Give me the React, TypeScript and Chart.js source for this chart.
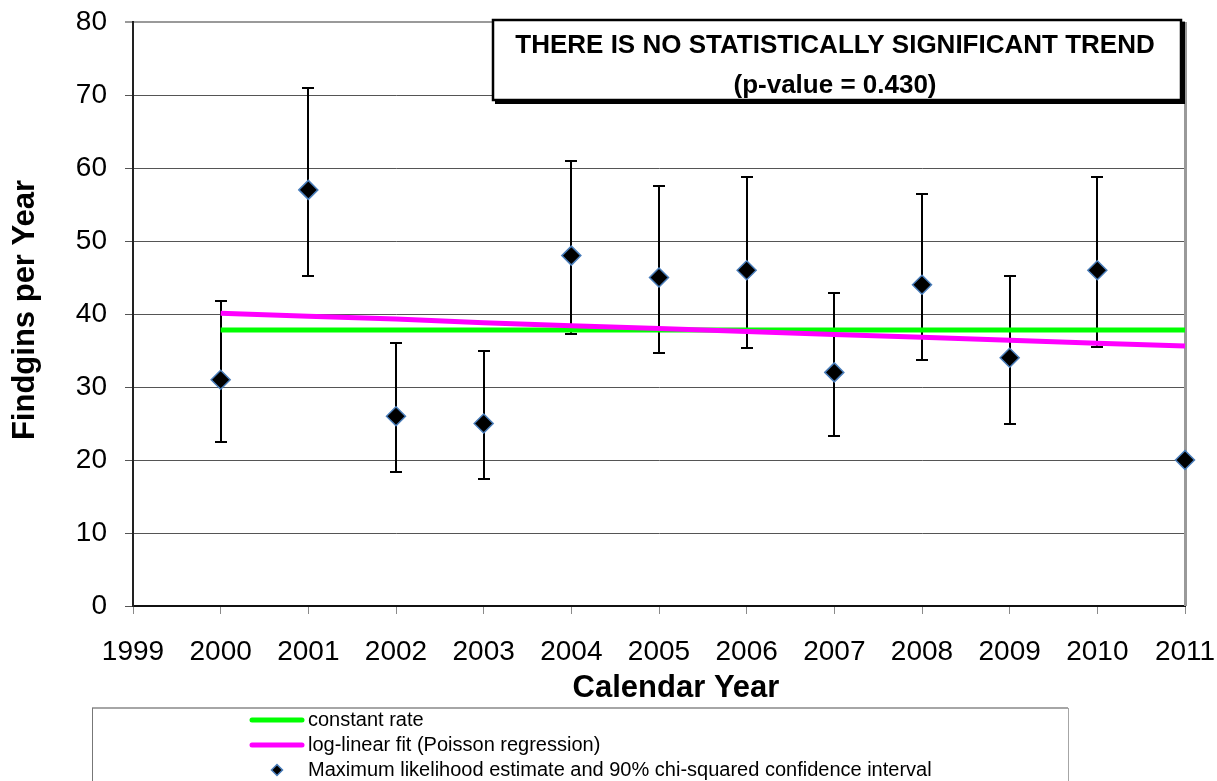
import React, { useEffect, useRef } from "react";
import { Chart, registerables } from "chart.js";

Chart.register(...registerables);

// ---------- data ----------
const years = [2000, 2001, 2002, 2003, 2004, 2005, 2006, 2007, 2008, 2009, 2010, 2011];
const mle = [31, 57, 26, 25, 48, 45, 46, 32, 44, 34, 46, 20];
const ciUpper = [41.8, 71.0, 36.0, 34.9, 61.0, 57.6, 58.7, 42.9, 56.5, 45.2, 58.7, null];
const ciLower = [22.4, 45.2, 18.3, 17.4, 37.2, 34.6, 35.4, 23.3, 33.7, 25.0, 35.5, null];
const constantRate = [37.8, 37.8, 37.8, 37.8, 37.8, 37.8, 37.8, 37.8, 37.8, 37.8, 37.8, 37.8];
const logLinearFit = [40.1, 39.7, 39.3, 38.8, 38.4, 38.0, 37.6, 37.2, 36.8, 36.4, 36.0, 35.6];

const xMin = 1999;
const xMax = 2011;
const yMin = 0;
const yMax = 80;
const yStep = 10;

const yTitle = "Findgins per Year";
const xTitle = "Calendar Year";
const noteLines = ["THERE IS NO STATISTICALLY SIGNIFICANT TREND", "(p-value = 0.430)"];
const legendLabels = [
  "constant rate",
  "log-linear fit (Poisson regression)",
  "Maximum likelihood estimate and 90% chi-squared confidence interval",
];

const FONT = '"Liberation Sans", Arial, Helvetica, sans-serif';
const GREEN = "#00ff00";
const MAGENTA = "#ff00ff";
const MARKER_BORDER = "#4a7ebb";

const decorPlugin = {
  id: "decor",
  beforeDatasetsDraw(chart: any) {
    const { ctx, chartArea, scales } = chart;
    const xs = scales.x;
    const ys = scales.y;
    ctx.save();
    // right plot border
    ctx.strokeStyle = "#9a9a9a";
    ctx.lineWidth = 3;
    ctx.beginPath();
    ctx.moveTo(chartArea.right + 0.5, chartArea.top);
    ctx.lineTo(chartArea.right + 0.5, chartArea.bottom);
    ctx.stroke();
    // error bars
    ctx.strokeStyle = "#000";
    ctx.lineWidth = 2;
    for (let i = 0; i < years.length; i++) {
      const hi = ciUpper[i];
      const lo = ciLower[i];
      if (hi == null || lo == null) continue;
      const x = Math.round(xs.getPixelForValue(years[i]));
      const yh = Math.round(ys.getPixelForValue(hi));
      const yl = Math.round(ys.getPixelForValue(lo));
      ctx.beginPath();
      ctx.moveTo(x, yh);
      ctx.lineTo(x, yl);
      ctx.moveTo(x - 6, yh);
      ctx.lineTo(x + 6, yh);
      ctx.moveTo(x - 6, yl);
      ctx.lineTo(x + 6, yl);
      ctx.stroke();
    }
    ctx.restore();
  },
  afterDraw(chart: any) {
    const { ctx } = chart;
    ctx.save();
    ctx.fillStyle = "#000";

    // y title
    ctx.save();
    ctx.font = `bold 31px ${FONT}`;
    ctx.textAlign = "center";
    ctx.textBaseline = "alphabetic";
    ctx.translate(34, 310);
    ctx.rotate(-Math.PI / 2);
    ctx.fillText(yTitle, 0, 0);
    ctx.restore();

    // x title
    ctx.font = `bold 31px ${FONT}`;
    ctx.textAlign = "center";
    ctx.textBaseline = "alphabetic";
    ctx.fillText(xTitle, 676, 697);

    // annotation box
    const bx = 493, by = 20, bw = 688, bh = 80;
    ctx.fillStyle = "#000";
    ctx.fillRect(bx + 2, by + 2, bw + 2, bh + 2);
    ctx.fillStyle = "#fff";
    ctx.fillRect(bx, by, bw, bh);
    ctx.strokeStyle = "#000";
    ctx.lineWidth = 2.5;
    ctx.strokeRect(bx, by, bw, bh);
    ctx.fillStyle = "#000";
    ctx.font = `bold 26px ${FONT}`;
    ctx.textAlign = "center";
    ctx.fillText(noteLines[0], bx + bw / 2 - 2, 53);
    ctx.fillText(noteLines[1], bx + bw / 2 - 2, 93);

    // legend box
    ctx.strokeStyle = "#a6a6a6";
    ctx.lineWidth = 2;
    ctx.beginPath();
    ctx.moveTo(92, 708);
    ctx.lineTo(1068, 708);
    ctx.stroke();
    ctx.lineWidth = 1;
    ctx.strokeStyle = "#777";
    ctx.beginPath();
    ctx.moveTo(92.5, 708);
    ctx.lineTo(92.5, 790);
    ctx.stroke();
    ctx.strokeStyle = "#a6a6a6";
    ctx.beginPath();
    ctx.moveTo(1068.5, 708);
    ctx.lineTo(1068.5, 790);
    ctx.stroke();

    const rows = [720, 745, 770];
    ctx.lineCap = "round";
    ctx.lineWidth = 5;
    ctx.strokeStyle = GREEN;
    ctx.beginPath();
    ctx.moveTo(252, rows[0]);
    ctx.lineTo(302, rows[0]);
    ctx.stroke();
    ctx.strokeStyle = MAGENTA;
    ctx.beginPath();
    ctx.moveTo(252, rows[1]);
    ctx.lineTo(302, rows[1]);
    ctx.stroke();
    // diamond
    const dx = 277, dy = rows[2], r = 5.5;
    ctx.beginPath();
    ctx.moveTo(dx - r, dy);
    ctx.lineTo(dx, dy - r);
    ctx.lineTo(dx + r, dy);
    ctx.lineTo(dx, dy + r);
    ctx.closePath();
    ctx.fillStyle = "#000";
    ctx.fill();
    ctx.lineWidth = 1.5;
    ctx.strokeStyle = MARKER_BORDER;
    ctx.stroke();

    ctx.fillStyle = "#000";
    ctx.font = `20px ${FONT}`;
    ctx.textAlign = "left";
    ctx.textBaseline = "middle";
    for (let i = 0; i < legendLabels.length; i++) {
      ctx.fillText(legendLabels[i], 308, rows[i]);
    }
    ctx.restore();
  },
};

export default function App() {
  const canvasRef = useRef<HTMLCanvasElement | null>(null);

  useEffect(() => {
    document.body.style.margin = "0";
    const canvas = canvasRef.current;
    if (!canvas) return;
    const chart = new Chart(canvas, {
      type: "scatter",
      data: {
        datasets: [
          {
            label: legendLabels[2],
            data: years.map((y, i) => ({ x: y, y: mle[i] })),
            showLine: false,
            pointStyle: "rectRot",
            pointRadius: 9.5,
            pointBackgroundColor: "#000",
            pointBorderColor: MARKER_BORDER,
            pointBorderWidth: 1.5,
            clip: false,
          } as any,
          {
            label: legendLabels[1],
            data: years.map((y, i) => ({ x: y, y: logLinearFit[i] })),
            showLine: true,
            borderColor: MAGENTA,
            borderWidth: 5,
            pointRadius: 0,
            clip: false,
          } as any,
          {
            label: legendLabels[0],
            data: years.map((y, i) => ({ x: y, y: constantRate[i] })),
            showLine: true,
            borderColor: GREEN,
            borderWidth: 5,
            pointRadius: 0,
            clip: false,
          } as any,
        ],
      },
      options: {
        animation: false,
        responsive: false,
        devicePixelRatio: 1,
        events: [],
        layout: { padding: { left: 0, top: 22, right: 32, bottom: 0 } },
        plugins: {
          legend: { display: false },
          tooltip: { enabled: false },
          title: { display: false },
        },
        scales: {
          x: {
            type: "linear",
            min: xMin,
            max: xMax,
            ticks: {
              stepSize: 1,
              autoSkip: false,
              maxRotation: 0,
              minRotation: 0,
              padding: 21,
              color: "#000",
              font: { family: FONT, size: 28 },
              callback: (v: any) => String(v),
            },
            grid: {
              drawOnChartArea: false,
              drawTicks: true,
              tickLength: 8,
              color: "#8a8a8a",
              lineWidth: 1,
            },
            border: { display: true, color: "#111", width: 2 },
            afterFit: (s: any) => {
              s.height = 175;
              s.paddingLeft = 0;
              s.paddingRight = 0;
            },
          },
          y: {
            type: "linear",
            min: yMin,
            max: yMax,
            ticks: {
              stepSize: yStep,
              padding: 18,
              color: "#000",
              font: { family: FONT, size: 28 },
              callback: (v: any) => String(v),
            },
            grid: {
              drawTicks: true,
              tickLength: 8,
              color: (c: any) => (c.tick && c.tick.value === yMax ? "#9a9a9a" : "#555"),
              lineWidth: (c: any) => (c.tick && c.tick.value === yMax ? 2 : 1),
            },
            border: { display: true, color: "#222", width: 2 },
            afterFit: (s: any) => {
              s.width = 133;
              s.paddingTop = 0;
              s.paddingBottom = 0;
            },
          },
        },
      },
      plugins: [decorPlugin],
    } as any);
    return () => chart.destroy();
  }, []);

  return (
    <div style={{ position: "absolute", left: 0, top: 0, width: 1217, height: 781, background: "#fff" }}>
      <canvas ref={canvasRef} width={1217} height={781} style={{ display: "block" }} />
    </div>
  );
}
